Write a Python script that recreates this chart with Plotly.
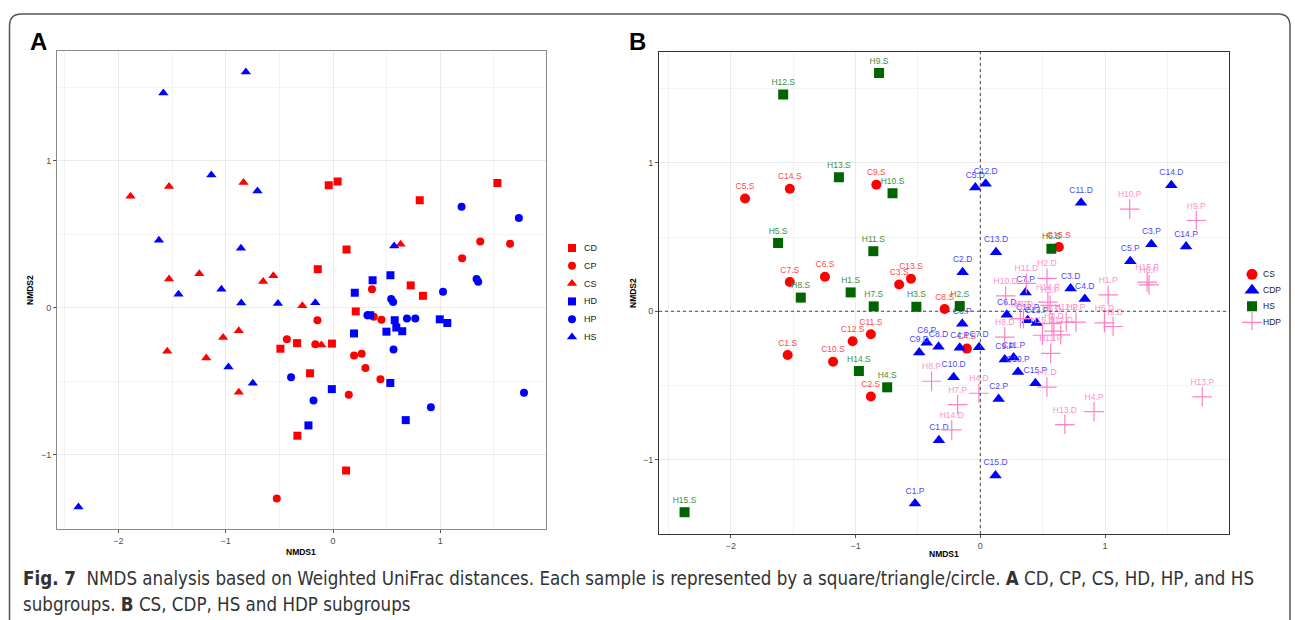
import plotly.graph_objects as go

W, H = 1295, 620

def px(x):
    return x / W

def py(y):
    return 1 - y / H

# ---------------- data (NMDS1, NMDS2) ----------------
cs_lab = ["C5.S", "C14.S", "C9.S", "C15.S", "C7.S", "C6.S", "C3.S", "C13.S",
          "C8.S", "C12.S", "C11.S", "C1.S", "C10.S", "C4.S", "C2.S"]
cs_x = [-1.887, -1.528, -0.834, 0.630, -1.528, -1.246, -0.651, -0.556,
        -0.286, -1.024, -0.878, -1.545, -1.181, -0.108, -0.878]
cs_y = [0.760, 0.826, 0.853, 0.433, 0.197, 0.232, 0.180, 0.219,
        0.015, -0.202, -0.155, -0.295, -0.341, -0.252, -0.575]

hs_lab = ["H9.S", "H12.S", "H13.S", "H10.S", "H5.S", "H11.S", "H6.S", "H8.S",
          "H1.S", "H7.S", "H3.S", "H2.S", "H14.S", "H4.S", "H15.S"]
hs_x = [-0.812, -1.581, -1.134, -0.704, -1.622, -0.858, 0.570, -1.440,
        -1.040, -0.855, -0.513, -0.165, -0.974, -0.747, -2.372]
hs_y = [1.606, 1.462, 0.904, 0.796, 0.460, 0.405, 0.421, 0.092,
        0.127, 0.033, 0.030, 0.035, -0.403, -0.513, -1.355]

cd_lab = ["C5.D", "C12.D", "C14.D", "C11.D", "C13.D", "C2.D", "C3.D", "C4.D",
          "C6.D", "C7.D", "C8.D", "C9.D", "C10.D", "C1.D", "C15.D"]
cd_x = [-0.040, 0.043, 1.532, 0.808, 0.126, -0.142, 0.724, 0.838,
        0.212, -0.010, -0.335, -0.490, -0.214, -0.332, 0.122]
cd_y = [0.834, 0.860, 0.850, 0.732, 0.398, 0.263, 0.153, 0.082,
        -0.024, -0.243, -0.240, -0.278, -0.445, -0.870, -1.107]

cp_lab = ["C5.P", "C3.P", "C14.P", "C7.P", "C12.P", "C13.P", "C8.P", "C6.P",
          "C4.P", "C9.P", "C11.P", "C10.P", "C15.P", "C2.P", "C1.P"]
cp_x = [1.203, 1.372, 1.650, 0.363, 0.380, 0.452, -0.145, -0.430,
        -0.165, 0.196, 0.267, 0.302, 0.442, 0.147, -0.524]
cp_y = [0.337, 0.452, 0.436, 0.127, -0.060, -0.080, -0.085, -0.213,
        -0.247, -0.325, -0.312, -0.410, -0.485, -0.591, -1.297]

hd_lab = ["H11.D", "H2.D", "H10.D", "H1.D", "H5.D", "H3.D", "H15.D", "H12.D",
          "H8.D", "H6.D", "H9.D", "H7.D", "H4.D", "H14.D", "H13.D"]
hd_x = [0.369, 0.535, 0.203, 0.346, 0.575, 0.590, 0.498, 0.645,
        0.196, 0.995, 1.065, 0.534, -0.011, -0.229, 0.678]
hd_y = [0.188, 0.222, 0.103, -0.050, -0.084, -0.134, -0.162, -0.159,
        -0.174, -0.078, -0.103, -0.511, -0.553, -0.800, -0.764]

hp_lab = ["H10.P", "H9.P", "H15.P", "H6.P", "H1.P", "H14.P", "H5.P", "H3.P",
          "H12.P", "H2.P", "H11.P", "H8.P", "H7.P", "H4.P", "H13.P"]
hp_x = [1.198, 1.732, 1.338, 1.353, 1.025, 0.542, 0.560, 0.321,
        0.689, 0.767, 0.564, -0.391, -0.182, 0.912, 1.780]
hp_y = [0.689, 0.612, 0.197, 0.178, 0.110, 0.061, 0.040, -0.050,
        -0.073, -0.073, -0.284, -0.472, -0.630, -0.677, -0.577]

groups_A = ["CD", "CP", "CS", "HD", "HP", "HS"]
groups_B = ["CS", "CDP", "HS", "HDP"]
ticks_major = [-2, -1, 0, 1]
ticks_minor = [-2.5, -1.5, -0.5, 0.5, 1.5]

RED, BLUE, GREEN, PINK = "#FF0000", "#0000FF", "#006400", "#FF80C4"
FONT = "Liberation Sans, Arial, Helvetica, sans-serif"

fig = go.Figure()

# ---------------- panel A ----------------
A_spec = {
    "CD": (cd_x, cd_y, "square", RED, 8),
    "CP": (cp_x, cp_y, "circle", RED, 8),
    "CS": (cs_x, cs_y, "triangle-up", RED, 9),
    "HD": (hd_x, hd_y, "square", BLUE, 8),
    "HP": (hp_x, hp_y, "circle", BLUE, 8),
    "HS": (hs_x, hs_y, "triangle-up", BLUE, 9),
}
for g in groups_A:
    xs, ys, sym, col, sz = A_spec[g]
    fig.add_trace(go.Scatter(x=xs, y=ys, mode="markers", xaxis="x", yaxis="y",
                             marker=dict(symbol=sym, color=col, size=sz),
                             showlegend=False, hoverinfo="skip"))
    fig.add_trace(go.Scatter(x=[0], y=[g], mode="markers", xaxis="x3", yaxis="y3",
                             marker=dict(symbol=sym, color=col, size=sz),
                             showlegend=False, hoverinfo="skip"))

# ---------------- panel B ----------------
B_spec = {
    "CS": (cs_x, cs_y, cs_lab, "circle", RED, 10, "#FF4A4A", 0),
    "CDP": (cd_x + cp_x, cd_y + cp_y, cd_lab + cp_lab, "triangle-up", BLUE, 11, "#4848FF", 0),
    "HS": (hs_x, hs_y, hs_lab, "square", GREEN, 10, "#3E8E3E", 0),
    "HDP": (hd_x + hp_x, hd_y + hp_y, hd_lab + hp_lab, "cross-thin", PINK, 14, "#FF8FCC", 1),
}
for g in groups_B:
    xs, ys, labs, sym, col, sz, tcol, lw = B_spec[g]
    mk = dict(symbol=sym, color=col, size=sz)
    if lw:
        mk["line"] = dict(color=col, width=1.2)
    fig.add_trace(go.Scatter(x=xs, y=ys, text=labs, mode="markers+text",
                             xaxis="x2", yaxis="y2", textposition="top center",
                             textfont=dict(family=FONT, size=8.5, color=tcol),
                             marker=mk, showlegend=False, hoverinfo="skip"))
    lsz = {"CS": 11, "CDP": 13, "HS": 10, "HDP": 15}[g]
    mk2 = dict(symbol=sym, color=col, size=lsz)
    if lw:
        mk2["line"] = dict(color=col, width=1.2)
    fig.add_trace(go.Scatter(x=[0], y=[g], mode="markers", xaxis="x4", yaxis="y4",
                             marker=mk2, showlegend=False, hoverinfo="skip"))


def axis(domain, rng, anchor, tickvals, minorvals, linecol):
    return dict(domain=domain, range=rng, anchor=anchor, tickvals=tickvals,
                ticktext=[str(v).replace("-", "\u2212") for v in tickvals],
                showgrid=True, gridcolor="#EBEBEB", gridwidth=1, zeroline=False,
                showline=True, mirror=True, linecolor=linecol, linewidth=1,
                ticks="outside", ticklen=3, tickcolor="#555555", tickwidth=1,
                tickfont=dict(family=FONT, size=9, color="#4D4D4D"),
                minor=dict(tickvals=minorvals, showgrid=True, gridcolor="#F3F3F3",
                           gridwidth=0.6, ticks=""),
                fixedrange=True)


hidden = dict(visible=False, showgrid=False, zeroline=False, fixedrange=True)

fig.update_layout(
    width=W, height=H, margin=dict(l=0, r=0, t=0, b=0),
    paper_bgcolor="white", plot_bgcolor="white",
    xaxis=axis([px(57), px(545.7)], [-2.572, 1.982], "y", ticks_major, ticks_minor, "#8A8A8A"),
    yaxis=axis([py(529), py(50.6)], [-1.505, 1.751], "x", [-1, 0, 1], [-0.5, 0.5, 1.5], "#8A8A8A"),
    xaxis2=axis([px(659), px(1228.7)], [-2.577, 1.992], "y2", ticks_major, ticks_minor, "#333333"),
    yaxis2=axis([py(534), py(52)], [-1.502, 1.748], "x2", [-1, 0, 1], [-0.5, 0.5, 1.5], "#333333"),
    xaxis3=dict(domain=[px(562), px(582)], range=[-1, 1], anchor="y3", **hidden),
    yaxis3=dict(domain=[py(345.9), py(239.1)], type="category", categoryarray=groups_A,
                range=[len(groups_A) - 0.5, -0.5], anchor="x3", **hidden),
    xaxis4=dict(domain=[px(1242), px(1262)], range=[-1, 1], anchor="y4", **hidden),
    yaxis4=dict(domain=[py(330.3), py(266.3)], type="category", categoryarray=groups_B,
                range=[len(groups_B) - 0.5, -0.5], anchor="x4", **hidden),
)

ann = []
for g in groups_A:
    ann.append(dict(x=0, y=g, xref="x3", yref="y3", text=g, showarrow=False,
                    xanchor="left", yanchor="middle", xshift=10,
                    font=dict(family=FONT, size=9, color="#1A1A1A")))
for g in groups_B:
    ann.append(dict(x=0, y=g, xref="x4", yref="y4", text=g, showarrow=False,
                    xanchor="left", yanchor="middle", xshift=9,
                    font=dict(family=FONT, size=8.5, color="#1A1A1A")))

title_font = dict(family=FONT, size=8.5, color="black")
ann += [
    dict(x=px(301), y=py(552), xref="paper", yref="paper", text="<b>NMDS1</b>", showarrow=False,
         xanchor="center", yanchor="middle", font=title_font),
    dict(x=px(944), y=py(554), xref="paper", yref="paper", text="<b>NMDS1</b>", showarrow=False,
         xanchor="center", yanchor="middle", font=title_font),
    dict(x=px(30), y=py(290), xref="paper", yref="paper", text="<b>NMDS2</b>", showarrow=False,
         textangle=-90, xanchor="center", yanchor="middle", font=title_font),
    dict(x=px(633), y=py(293), xref="paper", yref="paper", text="<b>NMDS2</b>", showarrow=False,
         textangle=-90, xanchor="center", yanchor="middle", font=title_font),
    dict(x=px(38), y=py(41), xref="paper", yref="paper", text="<b>A</b>", showarrow=False,
         xanchor="center", yanchor="middle", font=dict(family=FONT, size=24, color="black")),
    dict(x=px(637), y=py(41), xref="paper", yref="paper", text="<b>B</b>", showarrow=False,
         xanchor="center", yanchor="middle", font=dict(family=FONT, size=24, color="black")),
]

CAP = "Liberation Sans Narrow, Arial Narrow, DejaVu Sans Condensed, sans-serif"
ann += [
    dict(x=px(21), y=py(578), xref="paper", yref="paper", showarrow=False,
         xanchor="left", yanchor="middle",
         text="<b>Fig. 7</b>  NMDS analysis based on Weighted UniFrac distances. Each sample is represented by a "
              "square/triangle/circle. <b>A</b> CD, CP, CS, HD, HP, and HS",
         font=dict(family=CAP, size=18.6, color="#333333")),
    dict(x=px(21), y=py(604), xref="paper", yref="paper", showarrow=False,
         xanchor="left", yanchor="middle",
         text="subgroups. <b>B</b> CS, CDP, HS and HDP subgroups",
         font=dict(family=CAP, size=18.6, color="#333333")),
]

shapes = [
    dict(type="line", xref="x2", yref="y2 domain", x0=0, x1=0, y0=0, y1=1,
         line=dict(color="#444444", width=1, dash="dot")),
    dict(type="line", xref="x2 domain", yref="y2", x0=0, x1=1, y0=0, y1=0,
         line=dict(color="#444444", width=1, dash="dot")),
]
L, T, R, B, r = 9.5, 14, 1290, 640, 12
path = (f"M {px(L)},{py(B)} L {px(L)},{py(T + r)} Q {px(L)},{py(T)} {px(L + r)},{py(T)} "
        f"L {px(R - r)},{py(T)} Q {px(R)},{py(T)} {px(R)},{py(T + r)} L {px(R)},{py(B)}")
shapes.append(dict(type="path", xref="paper", yref="paper", path=path,
                   line=dict(color="#555555", width=1.5)))

fig.update_layout(annotations=ann, shapes=shapes)
fig.write_html("out.html")
